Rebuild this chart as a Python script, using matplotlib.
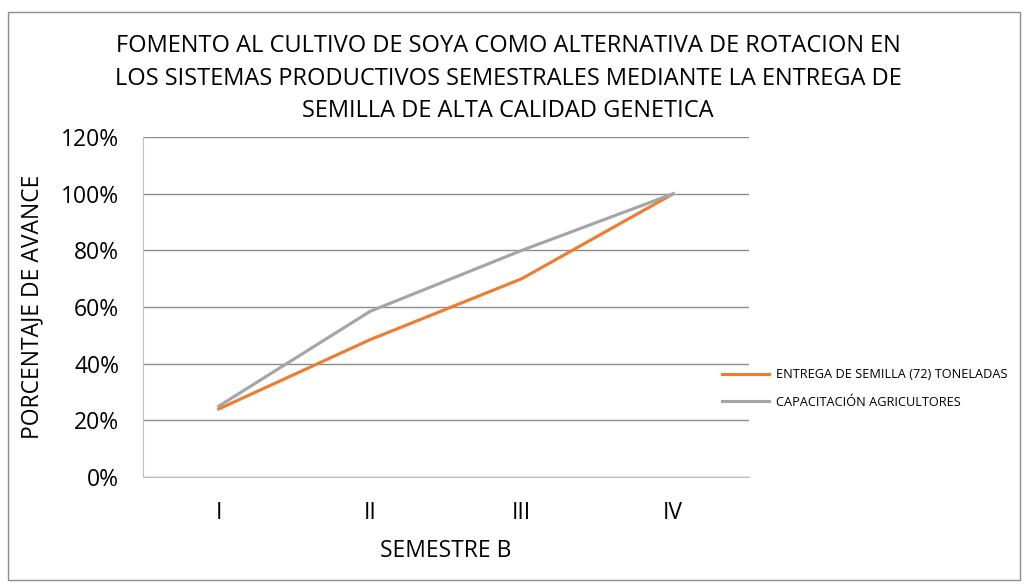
import matplotlib.pyplot as plt
from matplotlib.patches import Rectangle

plt.rcParams['font.family'] = ['Open Sans', 'DejaVu Sans']

semestres = ['I', 'II', 'III', 'IV']
entrega = [0.24, 0.485, 0.70, 1.00]
capacitacion = [0.25, 0.585, 0.80, 1.00]
yticks = [0, 0.2, 0.4, 0.6, 0.8, 1.0, 1.2]
ytick_labels = ['0%', '20%', '40%', '60%', '80%', '100%', '120%']

fig = plt.figure(figsize=(10.24, 5.86), dpi=100)
ax = fig.add_axes([0.1396, 0.186, 0.5918, 0.580])

# outer border of the chart
fig.patches.append(Rectangle((0.008, 0.01), 0.988, 0.97, transform=fig.transFigure,
                             fill=False, edgecolor='#8c8c8c', linewidth=1))

x = range(len(semestres))
ax.plot(x, entrega, color='#ED7D31', linewidth=2.25, label='ENTREGA DE SEMILLA (72) TONELADAS')
ax.plot(x, capacitacion, color='#A5A5A5', linewidth=2.25, label='CAPACITACIÓN AGRICULTORES')

ax.set_xlim(-0.5, 3.5)
ax.set_ylim(0, 1.2)
ax.set_xticks(list(x))
ax.set_xticklabels(semestres, fontsize=16.5)
ax.set_yticks(yticks)
ax.set_yticklabels(ytick_labels, fontsize=16.5)
ax.tick_params(axis='y', length=0, pad=17)
ax.tick_params(axis='x', length=0, pad=17)
ax.grid(axis='y', color='#8c8c8c', linewidth=1)
ax.set_axisbelow(True)
for s in ['top', 'right']:
    ax.spines[s].set_visible(False)
ax.spines['left'].set_color('#bfbfbf')
ax.spines['bottom'].set_color('#bfbfbf')

ax.set_xlabel('SEMESTRE B', fontsize=16.5, labelpad=10)
ax.set_ylabel('PORCENTAJE DE AVANCE', fontsize=16.5, labelpad=12)

fig.text(0.496, 0.866, 'FOMENTO AL CULTIVO DE SOYA COMO ALTERNATIVA DE ROTACION EN\n'
         'LOS SISTEMAS PRODUCTIVOS SEMESTRALES MEDIANTE LA ENTREGA DE\n'
         'SEMILLA DE ALTA CALIDAD GENETICA', ha='center', va='center',
         fontsize=17, linespacing=1.45)

fig.legend(*ax.get_legend_handles_labels(), loc='center left',
           bbox_to_anchor=(0.705, 0.337), bbox_transform=fig.transFigure,
           frameon=False, fontsize=9.2, handlelength=3.7, handletextpad=0.55,
           labelspacing=1.1, borderpad=0, borderaxespad=0)

fig.savefig('out.png', dpi=100)
